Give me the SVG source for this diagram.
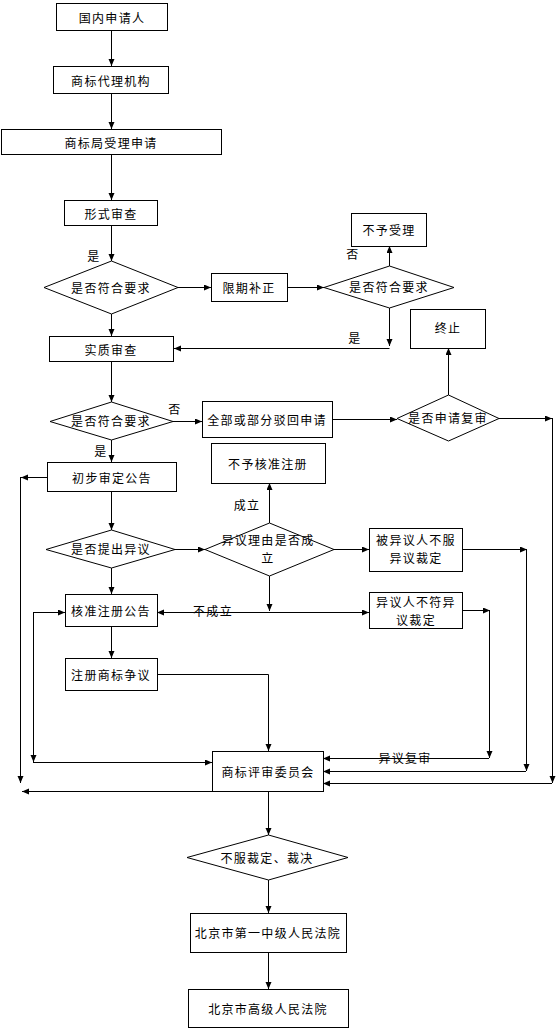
<svg xmlns="http://www.w3.org/2000/svg" width="557" height="1030" viewBox="0 0 557 1030">
<style>
.n rect,.n polygon{fill:#fff;stroke:#000;stroke-width:1}
text{font-family:"Noto Sans CJK SC","Liberation Sans",sans-serif;font-size:12px;letter-spacing:1.3px;fill:#000;text-anchor:middle;dominant-baseline:central}
.c path{fill:none;stroke:#000;stroke-width:1;marker-end:url(#ah)}
</style>
<defs>
<marker id="ah" markerUnits="userSpaceOnUse" markerWidth="8" markerHeight="7" refX="7" refY="3" orient="auto">
<path d="M0,0 L7,3 L0,6 z" fill="#000"/>
</marker>
</defs>
<rect width="557" height="1030" fill="#fff"/>
<g class="c" id="connectors">
<path d="M111.5,30 V66"/>
<path d="M111.5,93 V129"/>
<path d="M111.5,154 V200"/>
<path d="M111.5,225 V261"/>
<path d="M111.5,314 V336"/>
<path d="M178,287.5 H211"/>
<path d="M287,287.5 H324"/>
<path d="M389.5,266 V246"/>
<path d="M389.5,308 V346"/>
<path d="M389.5,348.5 H174"/>
<path d="M111.5,361 V402"/>
<path d="M173,421.5 H202"/>
<path d="M332,419.5 H397"/>
<path d="M448.5,395 V348"/>
<path d="M499,418.5 H552"/>
<path d="M552.5,418 V783"/>
<path d="M552,783.5 H323"/>
<path d="M111.5,440 V462"/>
<path d="M47,477.5 H21"/>
<path d="M20.5,477 V783"/>
<path d="M212,791.5 H22"/>
<path d="M111.5,491 V530"/>
<path d="M175,549.5 H205"/>
<path d="M269.5,523 V483"/>
<path d="M334,549.5 H369"/>
<path d="M269.5,576 V611"/>
<path d="M269,612.5 H157"/>
<path d="M269,612.5 H369"/>
<path d="M462,549.5 H527"/>
<path d="M526.5,549 V771"/>
<path d="M526,771.5 H323"/>
<path d="M462,610.5 H490"/>
<path d="M489.5,610 V758"/>
<path d="M489,758.5 H323"/>
<path d="M111.5,568 V594"/>
<path d="M33,612.5 H65"/>
<path d="M33.5,612 V762"/>
<path d="M33,762.5 H212"/>
<path d="M111.5,626 V658"/>
<path d="M157,674.5 H268.5 V751"/>
<path d="M268.5,791 V835"/>
<path d="M268.5,880 V913"/>
<path d="M268.5,952 V989"/>
</g>
<g id="labels">
<text x="94" y="255">是</text>
<text x="353" y="253">否</text>
<text x="355" y="337">是</text>
<text x="175" y="408">否</text>
<text x="101" y="450">是</text>
<text x="247" y="504">成立</text>
<text x="213" y="610">不成立</text>
<text x="405" y="757">异议复审</text>
</g>
<g class="n" id="n1"><rect x="56.5" y="3.5" width="111" height="27"/><text x="112" y="17">国内申请人</text></g>
<g class="n" id="n2"><rect x="53.5" y="66.5" width="115" height="27"/><text x="111" y="80">商标代理机构</text></g>
<g class="n" id="n3"><rect x="1.5" y="129.5" width="220" height="25"/><text x="111" y="142">商标局受理申请</text></g>
<g class="n" id="n4"><rect x="64.5" y="200.5" width="93" height="25"/><text x="111" y="213">形式审查</text></g>
<g class="n" id="d1"><polygon points="44,287.5 111.5,261 178,287.5 111.5,314"/><text x="111" y="287">是否符合要求</text></g>
<g class="n" id="n5"><rect x="211.5" y="273.5" width="76" height="28"/><text x="249" y="287">限期补正</text></g>
<g class="n" id="d2"><polygon points="324,287.5 389.5,266 454,287.5 389.5,308"/><text x="389" y="286">是否符合要求</text></g>
<g class="n" id="n6"><rect x="351.5" y="213.5" width="75" height="33"/><text x="389" y="229">不予受理</text></g>
<g class="n" id="n7"><rect x="49.5" y="336.5" width="124" height="25"/><text x="111" y="349">实质审查</text></g>
<g class="n" id="d3"><polygon points="50,421.5 111.5,402 173,421.5 111.5,440"/><text x="111" y="420">是否符合要求</text></g>
<g class="n" id="n8"><rect x="202.5" y="401.5" width="130" height="36"/><text x="267" y="419">全部或部分驳回申请</text></g>
<g class="n" id="d4"><polygon points="397,418.5 448.5,395 499,418.5 448.5,441"/><text x="448" y="417">是否申请复审</text></g>
<g class="n" id="n9"><rect x="410.5" y="309.5" width="75" height="39"/><text x="448" y="327">终止</text></g>
<g class="n" id="n10"><rect x="47.5" y="462.5" width="129" height="29"/><text x="112" y="477">初步审定公告</text></g>
<g class="n" id="d5"><polygon points="46,549.5 111.5,530 175,549.5 111.5,568"/><text x="111" y="548">是否提出异议</text></g>
<g class="n" id="d6"><polygon points="205,549.5 269.5,523 334,549.5 269.5,576"/><text x="268" y="539.5">异议理由是否成</text><text x="268" y="557.5">立</text></g>
<g class="n" id="n11"><rect x="211.5" y="443.5" width="114" height="40"/><text x="268" y="463">不予核准注册</text></g>
<g class="n" id="n12"><rect x="369.5" y="528.5" width="93" height="43"/><text x="416" y="539.5">被异议人不服</text><text x="416" y="557.5">异议裁定</text></g>
<g class="n" id="n13"><rect x="369.5" y="592.5" width="93" height="36"/><text x="416" y="601.5">异议人不符异</text><text x="416" y="619.5">议裁定</text></g>
<g class="n" id="n14"><rect x="65.5" y="594.5" width="92" height="32"/><text x="111" y="610">核准注册公告</text></g>
<g class="n" id="n15"><rect x="65.5" y="658.5" width="92" height="32"/><text x="111" y="674">注册商标争议</text></g>
<g class="n" id="n16"><rect x="212.5" y="751.5" width="111" height="40"/><text x="268" y="771">商标评审委员会</text></g>
<g class="n" id="d7"><polygon points="187,857.5 268.5,835 348,857.5 268.5,880"/><text x="267" y="857">不服裁定、裁决</text></g>
<g class="n" id="n17"><rect x="190.5" y="913.5" width="156" height="39"/><text x="268" y="932">北京市第一中级人民法院</text></g>
<g class="n" id="n18"><rect x="188.5" y="989.5" width="160" height="38"/><text x="268" y="1008">北京市高级人民法院</text></g>
</svg>
